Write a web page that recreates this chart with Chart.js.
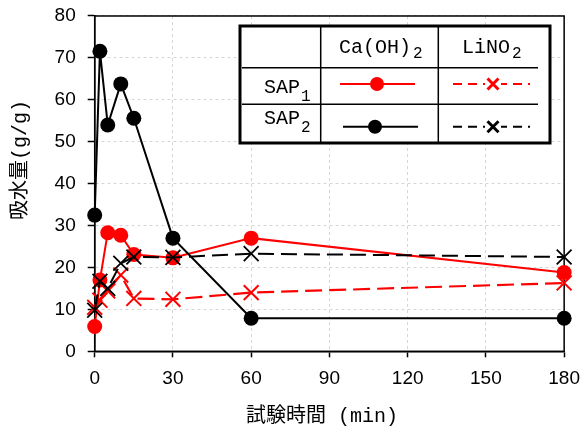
<!DOCTYPE html>
<html><head><meta charset="utf-8">
<script src="https://cdn.jsdelivr.net/npm/chart.js@4"></script>
<style>html,body{margin:0;padding:0;background:#fff}</style>
</head><body>
<canvas id="c" width="584" height="432"></canvas>
<script>
// ---- data ----
const times = [0, 2, 5, 10, 15, 30, 60, 180];
const sap1CaOH2 = [5.9, 17.0, 28.3, 27.7, 23.1, 22.3, 27.0, 18.8];
const sap1LiNO2 = [10.5, 12.2, 14.4, 18.2, 12.6, 12.4, 14.0, 16.3];
const sap2CaOH2 = [32.5, 71.6, 54.0, 63.8, 55.6, 27.0, 7.9, 7.9];
const sap2LiNO2 = [9.8, 16.7, 15.0, 21.0, 22.5, 22.4, 23.3, 22.5];
const xTicks = [0, 30, 60, 90, 120, 150, 180];
const yTicks = [0, 10, 20, 30, 40, 50, 60, 70, 80];
const xTitle = '試験時間 (min)';
const yTitle = '吸水量(g/g)';
const colHeads = [['Ca(OH)', '2'], ['LiNO', '2']];
const rowHeads = [['SAP', '1'], ['SAP', '2']];

const pts = arr => times.map((t, i) => ({x: t, y: arr[i]}));
const RED = '#ff0000', BLK = '#000000';
const monoCJK = "'Liberation Mono', 'Noto Sans CJK JP', monospace";
const sansFam = "'Liberation Sans', Arial, sans-serif";

function drawX(ctx, x, y, r, color, lw) {
  ctx.save();
  ctx.strokeStyle = color; ctx.lineWidth = lw; ctx.setLineDash([]);
  ctx.beginPath();
  ctx.moveTo(x - r, y - r); ctx.lineTo(x + r, y + r);
  ctx.moveTo(x - r, y + r); ctx.lineTo(x + r, y - r);
  ctx.stroke();
  ctx.restore();
}
function drawDot(ctx, x, y, r, color) {
  ctx.save(); ctx.fillStyle = color; ctx.beginPath();
  ctx.arc(x, y, r, 0, Math.PI * 2); ctx.fill(); ctx.restore();
}

const framePlugin = {
  id: 'frame',
  beforeDatasetsDraw(chart) {
    const {ctx, chartArea: a} = chart;
    ctx.save();
    ctx.strokeStyle = '#000'; ctx.lineWidth = 1.5;
    ctx.strokeRect(a.left, a.top, a.right - a.left, a.bottom - a.top);
    ctx.restore();
  },
  afterDraw(chart) {
    const ctx = chart.ctx;
    ctx.save();
    ctx.fillStyle = '#000';
    ctx.font = '20px ' + monoCJK;
    ctx.textAlign = 'center'; ctx.textBaseline = 'middle';
    ctx.fillText(xTitle, 322, 417);
    ctx.translate(21, 160);
    ctx.rotate(-Math.PI / 2);
    ctx.fillText(yTitle, 0, 0);
    ctx.restore();

    // legend table
    ctx.save();
    const L = 240, T = 26, R = 550, B = 143;
    ctx.fillStyle = '#fff';
    ctx.fillRect(L, T, R - L, B - T);
    ctx.strokeStyle = '#000';
    ctx.lineWidth = 1.5;
    ctx.beginPath();
    ctx.moveTo(320.7, T); ctx.lineTo(320.7, B);
    ctx.moveTo(438.3, T); ctx.lineTo(438.3, B);
    ctx.moveTo(242, 67.7); ctx.lineTo(538, 67.7);
    ctx.moveTo(242, 104.3); ctx.lineTo(538, 104.3);
    ctx.stroke();
    ctx.lineWidth = 3;
    ctx.strokeRect(L, T, R - L, B - T);

    ctx.fillStyle = '#000';
    ctx.textBaseline = 'middle';
    ctx.textAlign = 'left';
    const colX = [339, 462];
    colHeads.forEach((h, i) => {
      ctx.font = '20px ' + monoCJK;
      ctx.fillText(h[0], colX[i], 48);
      const w = ctx.measureText(h[0]).width;
      ctx.font = '16px ' + monoCJK;
      ctx.fillText(h[1], colX[i] + w + 2, 54);
    });
    const rowY = [88, 118.5];
    rowHeads.forEach((h, i) => {
      ctx.font = '20px ' + monoCJK;
      ctx.fillText(h[0], 264, rowY[i]);
      const w = ctx.measureText(h[0]).width;
      ctx.font = '16px ' + monoCJK;
      ctx.fillText(h[1], 264 + w + 1, rowY[i] + 9);
    });

    // samples
    const y1 = 84, y2 = 126.7;
    ctx.lineWidth = 2;
    ctx.strokeStyle = RED; ctx.setLineDash([]);
    ctx.beginPath(); ctx.moveTo(340, y1); ctx.lineTo(415, y1); ctx.stroke();
    drawDot(ctx, 377, y1, 7, RED);
    ctx.strokeStyle = BLK;
    ctx.beginPath(); ctx.moveTo(343, y2); ctx.lineTo(418, y2); ctx.stroke();
    drawDot(ctx, 375, y2, 7, BLK);

    ctx.setLineDash([9, 6]);
    ctx.strokeStyle = RED;
    ctx.beginPath(); ctx.moveTo(453, y1); ctx.lineTo(530, y1); ctx.stroke();
    ctx.strokeStyle = BLK;
    ctx.beginPath(); ctx.moveTo(453, y2); ctx.lineTo(530, y2); ctx.stroke();
    ctx.setLineDash([]);
    ctx.fillStyle = '#fff';
    ctx.fillRect(485, y1 - 6, 16, 12);
    ctx.fillRect(485, y2 - 6, 16, 12);
    drawX(ctx, 493, y1, 5.5, RED, 3);
    drawX(ctx, 493, y2, 5.5, BLK, 3);
    ctx.restore();
  }
};

new Chart(document.getElementById('c'), {
  type: 'line',
  data: {
    datasets: [
      {label: 'SAP2 LiNO2', data: pts(sap2LiNO2), borderColor: BLK, backgroundColor: BLK, clip: false,
       borderWidth: 2, borderDash: [16, 7], pointStyle: 'crossRot', pointRadius: 10.5, pointBorderWidth: 1.8},
      {label: 'SAP2 Ca(OH)2', data: pts(sap2CaOH2), borderColor: BLK, backgroundColor: BLK, clip: false,
       borderWidth: 2, pointStyle: 'circle', pointRadius: 7.5, pointBorderWidth: 0},
      {label: 'SAP1 LiNO2', data: pts(sap1LiNO2), borderColor: RED, backgroundColor: RED, clip: false,
       borderWidth: 2.2, borderDash: [17, 7], pointStyle: 'crossRot', pointRadius: 10.5, pointBorderWidth: 2},
      {label: 'SAP1 Ca(OH)2', data: pts(sap1CaOH2), borderColor: RED, backgroundColor: RED, clip: false,
       borderWidth: 2, pointStyle: 'circle', pointRadius: 7.5, pointBorderWidth: 0}
    ]
  },
  options: {
    responsive: false,
    animation: false,
    layout: {padding: {left: 0, right: 0, top: 0, bottom: 0}},
    plugins: {legend: {display: false}, tooltip: {enabled: false}},
    elements: {line: {tension: 0, fill: false}},
    scales: {
      x: {
        type: 'linear', min: 0, max: 180,
        afterBuildTicks: s => { s.ticks = xTicks.map(v => ({value: v})); },
        afterFit: s => { s.height = 80.7; },
        ticks: {font: {family: sansFam, size: 19, lineHeight: 1.86}, color: '#000', padding: 4, maxRotation: 0, autoSkip: false},
        grid: {color: '#d6d6d6', lineWidth: 1, tickColor: '#000', tickLength: 6, tickWidth: 1.5},
        border: {display: true, color: '#000', width: 1.5, dash: [3, 3]}
      },
      y: {
        type: 'linear', min: 0, max: 80,
        afterBuildTicks: s => { s.ticks = yTicks.map(v => ({value: v})); },
        afterFit: s => { s.width = 94.7; },
        ticks: {font: {family: sansFam, size: 19, lineHeight: 0.42}, color: '#000', padding: 12, autoSkip: false},
        grid: {color: '#d6d6d6', lineWidth: 1, tickColor: '#000', tickLength: 7, tickWidth: 1.5},
        border: {display: true, color: '#000', width: 1.5, dash: [3, 3]}
      }
    }
  },
  plugins: [framePlugin]
});
</script>
</body></html>
